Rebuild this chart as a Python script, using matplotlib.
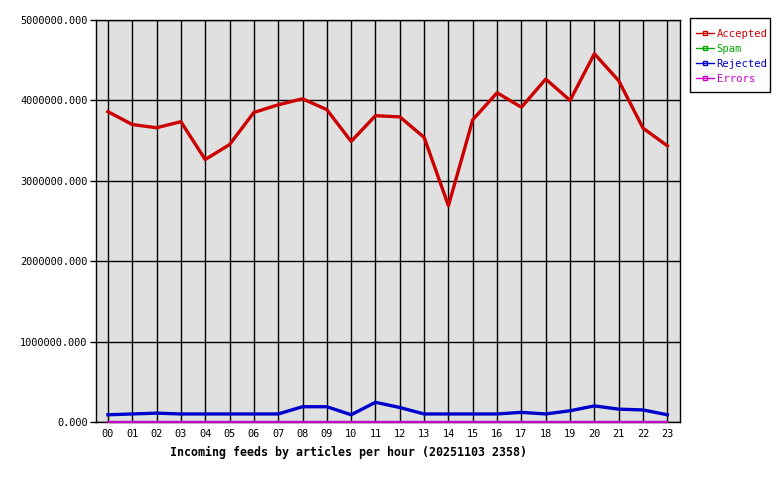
import matplotlib
matplotlib.use("Agg")
import matplotlib.pyplot as plt
from matplotlib.lines import Line2D
from matplotlib.patches import Rectangle
from matplotlib.ticker import FuncFormatter

hours = ["00", "01", "02", "03", "04", "05", "06", "07", "08", "09", "10", "11",
         "12", "13", "14", "15", "16", "17", "18", "19", "20", "21", "22", "23"]
accepted = [3860000, 3700000, 3660000, 3735000, 3265000, 3450000, 3850000, 3945000,
            4020000, 3885000, 3490000, 3810000, 3795000, 3540000, 2690000, 3760000,
            4095000, 3915000, 4265000, 4000000, 4580000, 4245000, 3655000, 3435000]
spam = [0] * 24
rejected = [90000, 100000, 110000, 100000, 100000, 100000, 100000, 100000,
            190000, 190000, 90000, 245000, 180000, 100000, 100000, 100000,
            100000, 120000, 100000, 140000, 200000, 160000, 150000, 90000]
errors = [0] * 24
series_names = ["Accepted", "Spam", "Rejected", "Errors"]
y_ticks = [0, 1000000, 2000000, 3000000, 4000000, 5000000]
title = "Incoming feeds by articles per hour (20251103 2358)"

colors = {"Accepted": "#cc0000", "Spam": "#00aa00", "Rejected": "#0000cc", "Errors": "#cc00cc"}
font = "DejaVu Sans Mono"

fig = plt.figure(figsize=(7.8, 4.8), dpi=100)
ax = fig.add_axes([96 / 780, 1 - 422 / 480, 584 / 780, 402 / 480])
ax.set_facecolor("#e0e0e0")

x = list(range(len(hours)))
ax.plot(x, accepted, color=colors["Accepted"], lw=2.4, zorder=3)
ax.plot(x, spam, color=colors["Spam"], lw=1.6, zorder=3, clip_on=False)
ax.plot(x, rejected, color=colors["Rejected"], lw=2.4, zorder=3)
ax.plot(x, errors, color=colors["Errors"], lw=1.6, zorder=4, clip_on=False)

ax.set_xlim(-0.49, 23.52)
ax.set_ylim(0, 5000000)
ax.set_xticks(x)
ax.set_xticklabels(hours, family=font, fontsize=7.4)
ax.set_yticks(y_ticks)
ax.yaxis.set_major_formatter(FuncFormatter(lambda v, p: "%.3f" % v))
for lab in ax.get_yticklabels():
    lab.set_family(font)
    lab.set_fontsize(7.4)
ax.tick_params(axis="x", length=0, pad=5)
ax.tick_params(axis="y", length=4, width=1, pad=2, direction="out")
ax.grid(True, color="black", lw=1, zorder=1)
ax.set_axisbelow(True)
for s in ax.spines.values():
    s.set_color("black")
    s.set_linewidth(1.0)
    s.set_zorder(2.5)

fig.text(348 / 780, 1 - 452 / 480, title, family=font, fontsize=8.4, weight="bold",
         ha="center", va="center")

# legend frame
fig.patches.append(Rectangle((690 / 780, 1 - 92 / 480), 80 / 780, 74 / 480,
                             transform=fig.transFigure, facecolor="white",
                             edgecolor="black", lw=1, zorder=0))

handles = [Line2D([0], [0], color=colors[n], lw=1, marker="s", markersize=2.5,
                  markerfacecolor="none", markeredgecolor=colors[n]) for n in series_names]
leg = fig.legend(handles, series_names, loc="upper left",
                 bbox_to_anchor=(696 / 780, 1 - 29 / 480), prop={"family": font, "size": 7.6},
                 frameon=False, handlelength=1.75, handletextpad=0.2, labelspacing=0.47,
                 borderpad=0, borderaxespad=0)
for t, n in zip(leg.get_texts(), series_names):
    t.set_color(colors[n])

fig.savefig("out.png", dpi=100)
